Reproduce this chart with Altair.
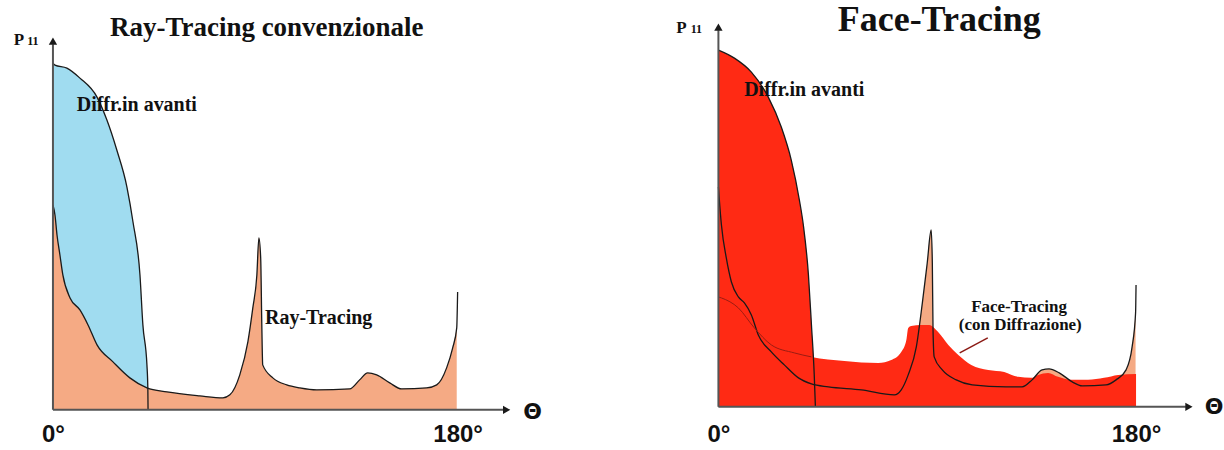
import altair as alt
import pandas as pd

# ---------------- data (angle in degrees, P11 in arbitrary units) ----------------
# Left panel: conventional ray tracing
lobe_L_deg = [0, 0.9, 6.2, 12, 19.6, 24, 28.4, 32.9, 35.6, 38.7, 40, 41.8, 42.2, 42.3]
lobe_L_val = [347, 345, 342, 332, 313, 290, 260, 223, 188, 135, 85, 45, 22, 0]

rt_L_deg = [0, 0.9, 1.8, 3.1, 4.4, 7.6, 12, 15.6, 19.6, 26.7, 34.2, 41.8, 50.7, 65.3, 75.6,
            78.7, 83.1, 86.7, 88.9, 90.7, 91.6, 92.4, 92.9, 93.3, 97.8, 104, 109.8, 117.3,
            132, 136.4, 140, 144, 149.8, 155.1, 166.2, 170.7, 175.1, 177.8, 179.6, 180]
rt_L_val = [205, 195, 175, 155, 135, 112, 100, 85, 65, 48, 32, 22, 18, 14, 12,
            15, 35, 68, 102, 135, 172, 152, 85, 45, 32, 25, 22, 20,
            21, 30, 37, 35, 27, 21, 22, 25, 42, 62, 82, 118]

# Right panel: face tracing
lobe_R_deg = [0, 6.9, 14.2, 21.5, 27.1, 31.4, 34.9, 36.6, 38.8, 40.1, 41.3, 41.8]
lobe_R_val = [357, 349, 335, 310, 280, 247, 207, 182, 132, 82, 32, 0]

rt_R_deg = [0, 0.4, 1.3, 3.4, 5.6, 8.6, 11.2, 14.2, 17.2, 22.8, 28.4, 34.5, 40.1, 47.4, 61.6,
            75.8, 78.8, 81.8, 85.3, 87.9, 90, 91.7, 92.2, 92.5, 93, 96.5, 102.5, 109.4, 124,
            130.9, 135.2, 139.5, 142.5, 146.9, 152.5, 156.8, 167.1, 171.4, 175.7, 178.3, 179.8, 180]
rt_R_val = [220, 207, 182, 149, 125, 110, 104, 92, 72, 55, 42, 29, 23, 20, 17,
            12, 17, 32, 60, 104, 144, 177, 144, 77, 50, 37, 27, 22, 20,
            20, 27, 37, 38, 34, 25, 21, 22, 27, 37, 60, 94, 122]

ft_R_deg = [0, 1.3, 8.6, 15.5, 22.8, 32.7, 40.1, 54.3, 68.9, 74.5, 78.8, 81, 81.8, 83.1, 87.4,
            90.9, 94.7, 99.1, 103.4, 109, 116.3, 123.2, 129.2, 134.8, 137.8, 142.1, 146.4,
            152, 159.3, 166.2, 172.3, 180]
ft_R_val = [110, 109, 99, 79, 62, 54, 50, 46, 44, 47, 55, 67, 79, 81, 82,
            82, 75, 62, 52, 42, 37, 35, 30, 29, 32, 34, 30,
            27, 27, 29, 32, 33]

pointer_deg = [104, 116.1]
pointer_val = [54, 69]

tick_values = [0, 180]

# axis arrows: x-axis end (deg), y-axis end (value), arrowhead positions
axis_L = {"xend": 200.5, "yend": 366, "xtip": 201.8, "ytip": 369}
axis_R = {"xend": 201.5, "yend": 377, "xtip": 202.8, "ytip": 380}

# text labels
title_L = {"x": [95.1], "y": [382], "t": ["Ray-Tracing convenzionale"]}
title_R = {"x": [95.2], "y": [387], "t": ["Face-Tracing"]}
labels_L = {"x": [37.3, 118.2], "y": [305, 92], "t": ["Diffr.in avanti", "Ray-Tracing"]}
labels_R = {"x": [37.0], "y": [317], "t": ["Diffr.in avanti"]}
ft_note = {"x": [129.6, 130.1], "y": [100, 82], "t": ["Face-Tracing", "(con Diffrazione)"]}
p_L = {"x": [-15.1], "y": [365]}
sub_L = {"x": [-8.9], "y": [365]}
p_R = {"x": [-15.9], "y": [374]}
sub_R = {"x": [-9.5], "y": [374]}
theta_L = {"x": [213.3], "y": [-2]}
theta_R = {"x": [213.6], "y": [0]}

BLUE = "#a0dcf0"
ORANGE = "#f5aa84"
RED = "#ff2a14"
INK = "#1a1a1a"
SERIF = "Liberation Serif"
SANS = "Liberation Sans"


def df(xs, ys):
    return pd.DataFrame({"x": xs, "y": ys})


def make_panel(xdom, ydom, areas, lines, axis_pts, texts):
    X = alt.X("x:Q", scale=alt.Scale(domain=xdom, nice=False, zero=False),
              axis=alt.Axis(values=tick_values, labelExpr="datum.value + '°'",
                            domain=False, ticks=False, grid=False, title=None,
                            labelFont=SANS, labelFontSize=24, labelFontWeight="bold",
                            labelColor="#111", labelPadding=13, labelFlush=False,
                            labelOverlap=False))
    Y = alt.Y("y:Q", scale=alt.Scale(domain=ydom, nice=False, zero=False), axis=None)
    layers = []
    for d, color in areas:
        layers.append(alt.Chart(d).mark_area(color=color, interpolate="monotone", opacity=1)
                      .encode(x=X, y=Y, y2=alt.datum(0)))
    for d, color, w in lines:
        layers.append(alt.Chart(d).mark_line(color=color, strokeWidth=w, interpolate="monotone")
                      .encode(x=X, y=Y))
    # axes lines
    ax = pd.DataFrame({"x": [0, 0], "y": [0, 0], "x2": [axis_pts["xend"], 0],
                       "y2": [0, axis_pts["yend"]]})
    layers.append(alt.Chart(ax).mark_rule(color="#555", strokeWidth=2)
                  .encode(x=X, y=Y, x2="x2:Q", y2="y2:Q"))
    layers.append(alt.Chart(df([axis_pts["xtip"]], [0]))
                  .mark_point(shape="triangle-right", filled=True, size=70, color=INK, opacity=1)
                  .encode(x=X, y=Y))
    layers.append(alt.Chart(df([0], [axis_pts["ytip"]]))
                  .mark_point(shape="triangle-up", filled=True, size=70, color=INK, opacity=1)
                  .encode(x=X, y=Y))
    for d, font, size, weight, base in texts:
        layers.append(alt.Chart(pd.DataFrame(d))
                      .mark_text(font=font, fontSize=size, fontWeight=weight, color="#111",
                                 align="center", baseline=base)
                      .encode(x=X, y=Y, text="t:N"))
    return alt.layer(*layers).properties(width=612, height=410)


rtL = df(rt_L_deg, rt_L_val)
left = make_panel(
    [-23.556, 248.444], [0, 410],
    areas=[(df(lobe_L_deg, lobe_L_val), BLUE), (rtL.iloc[:-1], ORANGE)],
    lines=[(df(lobe_L_deg, lobe_L_val), INK, 1.3), (rtL, INK, 1.3)],
    axis_pts=axis_L,
    texts=[(title_L, SERIF, 27, "bold", "middle"),
           (labels_L, SERIF, 20, "bold", "middle"),
           ({**p_L, "t": ["P"]}, SERIF, 17, "bold", "alphabetic"),
           ({**sub_L, "t": ["11"]}, SERIF, 12, "bold", "alphabetic"),
           ({**theta_L, "t": ["Θ"]}, "DejaVu Sans", 22, "bold", "middle")],
)

rtR = df(rt_R_deg, rt_R_val)
ftR = df(ft_R_deg, ft_R_val)
right = make_panel(
    [-46.08, 217.48], [-3, 407],
    areas=[(rtR.iloc[:-1], ORANGE), (ftR, RED), (df(lobe_R_deg, lobe_R_val), RED)],
    lines=[(df(lobe_R_deg, lobe_R_val), INK, 1.3), (rtR, INK, 1.3),
           (ftR[ftR["x"] <= 42], "#9b1c12", 1.0),
           (df(pointer_deg, pointer_val), "#8b1a14", 1.5)],
    axis_pts=axis_R,
    texts=[(title_R, SERIF, 36, "bold", "middle"),
           (labels_R, SERIF, 20, "bold", "middle"),
           (ft_note, SERIF, 17, "bold", "middle"),
           ({**p_R, "t": ["P"]}, SERIF, 17, "bold", "alphabetic"),
           ({**sub_R, "t": ["11"]}, SERIF, 12, "bold", "alphabetic"),
           ({**theta_R, "t": ["Θ"]}, "DejaVu Sans", 22, "bold", "middle")],
)

chart = (alt.hconcat(left, right, spacing=0)
         .properties(padding=0, background="white")
         .configure_view(stroke=None))

chart.save("out.html", embed_options={"renderer": "svg", "actions": False})
